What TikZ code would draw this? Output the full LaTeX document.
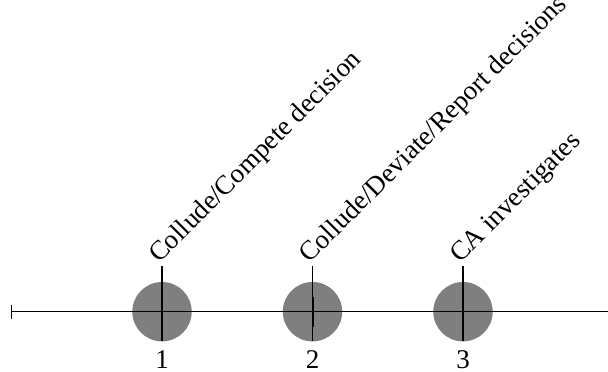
\documentclass[tikz,border=0pt]{standalone}
\usepackage{fontspec}
\setmainfont{Liberation Serif}
\begin{document}
\begin{tikzpicture}[x=1pt,y=1pt,
  thinline/.style={draw=black,line width=1.1pt},
  thicktick/.style={draw=black,line width=2pt},
  dot/.style={circle,minimum size=59.4pt,inner sep=0pt,fill=black,fill opacity=0.5,draw=none},
  numlab/.style={font=\fontsize{27}{32}\selectfont,inner sep=0pt,anchor=base},
  rotlab/.style={font=\fontsize{27}{32}\selectfont,inner sep=0pt,anchor=base west,rotate=45}]
\useasboundingbox (0,0) rectangle (608,372);
\coordinate (L) at (11.7,60.3);
\coordinate (R) at (608,60.3);
\draw[thinline] (L) -- (R);
\draw[thinline] ([yshift=-7pt]L) -- ([yshift=7pt]L);
% event 1
\coordinate (t1) at (162,105.5);
\coordinate (b1) at (162,30.5);
\draw[thinline] (t1) -- (b1);
\node[dot] (c1) at (162,60.3) {};
\draw[thicktick] ([yshift=15pt]c1.center) -- ([yshift=-15pt]c1.center);
\node[numlab] (n1) at (162,3) {1};
\node[rotlab] (l1) at (159,108) {Collude/Compete decision};
% event 2
\coordinate (t2) at (312.5,105.5);
\coordinate (b2) at (312.5,30.5);
\draw[thinline] (t2) -- (b2);
\node[dot] (c2) at (312.5,60.3) {};
\draw[thicktick] ([yshift=15pt]c2.center) -- ([yshift=-15pt]c2.center);
\node[numlab] (n2) at (312.5,3) {2};
\node[rotlab] (l2) at (309.5,108) {Collude/Deviate/Report decisions};
% event 3
\coordinate (t3) at (463,105.5);
\coordinate (b3) at (463,30.5);
\draw[thinline] (t3) -- (b3);
\node[dot] (c3) at (463,60.3) {};
\draw[thicktick] ([yshift=15pt]c3.center) -- ([yshift=-15pt]c3.center);
\node[numlab] (n3) at (463,3) {3};
\node[rotlab] (l3) at (460,108) {CA investigates};
\end{tikzpicture}
\end{document}
